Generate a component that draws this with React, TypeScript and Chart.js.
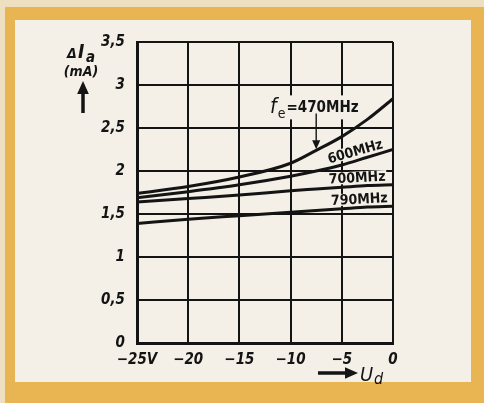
import React, { useEffect, useRef } from "react";
import { Chart, registerables } from "chart.js";
Chart.register(...registerables);

// Reverse voltage Ud (V)
const voltages = [-25, -20, -15, -10, -7.5, -5, -2.5, 0];
// ΔIa (mA) per input frequency
const i470 = [1.74, 1.82, 1.93, 2.09, 2.24, 2.4, 2.6, 2.84];
const i600 = [1.69, 1.76, 1.84, 1.94, 2.0, 2.07, 2.16, 2.25];
const i700 = [1.64, 1.68, 1.72, 1.77, 1.79, 1.81, 1.83, 1.84];
const i790 = [1.39, 1.44, 1.48, 1.52, 1.54, 1.56, 1.58, 1.59];

const seriesNames = ["470 MHz", "600 MHz", "700 MHz", "790 MHz"];
const curveLabels = ["600MHz", "700MHz", "790MHz"];
const yTickValues = [0, 0.5, 1, 1.5, 2, 2.5, 3, 3.5];

const INK = "#141414";
const PAPER = "#F4F0E7";
const NARROW = '"Liberation Sans Narrow", "DejaVu Sans Condensed", "Roboto", sans-serif';

function drawArrowHead(ctx: CanvasRenderingContext2D, x: number, y: number, dir: "down" | "up" | "right", size: number) {
  ctx.beginPath();
  if (dir === "down") {
    ctx.moveTo(x, y);
    ctx.lineTo(x - size * 0.45, y - size);
    ctx.lineTo(x + size * 0.45, y - size);
  } else if (dir === "up") {
    ctx.moveTo(x, y);
    ctx.lineTo(x - size * 0.45, y + size);
    ctx.lineTo(x + size * 0.45, y + size);
  } else {
    ctx.moveTo(x, y);
    ctx.lineTo(x - size, y - size * 0.45);
    ctx.lineTo(x - size, y + size * 0.45);
  }
  ctx.closePath();
  ctx.fill();
}

const annotations = {
  id: "annotations",
  afterDraw(chart: any) {
    const { ctx, chartArea, scales } = chart;
    const x = scales.x;
    const y = scales.y;
    ctx.save();

    // fe = 470MHz label (with paper background masking the grid)
    const px = x.getPixelForValue(-12.0);
    const py = y.getPixelForValue(2.74);
    ctx.fillStyle = PAPER;
    ctx.fillRect(px - 2, py - 12, 92, 24);
    ctx.fillStyle = INK;
    ctx.strokeStyle = INK;
    ctx.textBaseline = "alphabetic";
    ctx.textAlign = "left";
    ctx.font = `italic 21px ${NARROW}`;
    ctx.fillText("f", px, py + 6);
    let w = ctx.measureText("f").width;
    ctx.font = `14px ${NARROW}`;
    ctx.fillText("e", px + w + 1, py + 11);
    w += ctx.measureText("e").width + 2;
    ctx.font = `bold 15px ${NARROW}`;
    ctx.fillText("=470MHz", px + w, py + 5);

    // pointer arrow from the label to the 470 MHz curve
    ctx.lineWidth = 1.4;
    const ax1 = x.getPixelForValue(-7.5);
    const top = y.getPixelForValue(2.67);
    const tip1 = y.getPixelForValue(i470[4]);
    ctx.beginPath();
    ctx.moveTo(ax1, top);
    ctx.lineTo(ax1, tip1 - 6);
    ctx.stroke();
    drawArrowHead(ctx, ax1, tip1 - 1, "down", 9);

    // curve labels
    const labelPos = [
      { x: -3.7, y: 2.23, rot: -16 },
      { x: -3.5, y: 1.925, rot: -3 },
      { x: -3.3, y: 1.675, rot: -3 },
    ];
    ctx.font = `bold 14px ${NARROW}`;
    ctx.textAlign = "center";
    ctx.textBaseline = "middle";
    curveLabels.forEach((t, i) => {
      const p = labelPos[i];
      ctx.save();
      ctx.translate(x.getPixelForValue(p.x), y.getPixelForValue(p.y));
      ctx.rotate((p.rot * Math.PI) / 180);
      const tw = ctx.measureText(t).width;
      ctx.fillStyle = PAPER;
      ctx.fillRect(-tw / 2 - 1, -6, tw + 2, 12);
      ctx.fillStyle = INK;
      ctx.fillText(t, 0, 1);
      ctx.restore();
    });

    // y-axis title: ΔIa (mA) with arrow
    const tx = chartArea.left - 56;
    ctx.fillStyle = INK;
    ctx.textAlign = "left";
    ctx.textBaseline = "alphabetic";
    ctx.font = `bold italic 14px ${NARROW}`;
    ctx.fillText("Δ", tx - 14, chartArea.top + 16);
    ctx.font = `bold italic 19px ${NARROW}`;
    ctx.fillText("I", tx - 3, chartArea.top + 16);
    ctx.font = `bold italic 15px ${NARROW}`;
    ctx.fillText("a", tx + 5, chartArea.top + 20);
    ctx.textAlign = "center";
    ctx.font = `bold italic 14px ${NARROW}`;
    ctx.fillText("(mA)", tx, chartArea.top + 34);
    ctx.lineWidth = 3.5;
    ctx.beginPath();
    ctx.moveTo(tx + 2, chartArea.top + 71);
    ctx.lineTo(tx + 2, chartArea.top + 50);
    ctx.stroke();
    drawArrowHead(ctx, tx + 2, chartArea.top + 39, "up", 13);

    // x-axis title: → Ud
    const by = chartArea.bottom + 30;
    ctx.lineWidth = 3.5;
    ctx.beginPath();
    ctx.moveTo(chartArea.right - 75, by);
    ctx.lineTo(chartArea.right - 46, by);
    ctx.stroke();
    drawArrowHead(ctx, chartArea.right - 35, by, "right", 13);
    ctx.textAlign = "left";
    ctx.font = `italic 20px ${NARROW}`;
    ctx.fillText("U", chartArea.right - 33, by + 8);
    ctx.font = `italic 16px ${NARROW}`;
    ctx.fillText("d", chartArea.right - 19, by + 11);

    ctx.restore();
  },
};

export default function App() {
  const ref = useRef<HTMLCanvasElement | null>(null);
  useEffect(() => {
    if (!ref.current) return;
    const mk = (data: number[], i: number) => ({
      label: seriesNames[i],
      data: voltages.map((v, k) => ({ x: v, y: data[k] })),
      borderColor: INK,
      borderWidth: 3,
      pointRadius: 0,
      cubicInterpolationMode: "monotone" as const,
      fill: false,
    });
    const chart = new Chart(ref.current, {
      type: "line",
      data: { datasets: [mk(i470, 0), mk(i600, 1), mk(i700, 2), mk(i790, 3)] },
      options: {
        animation: false,
        responsive: false,
        maintainAspectRatio: false,
        layout: { padding: { left: 77, right: 91, top: 42, bottom: 30 } },
        plugins: { legend: { display: false }, tooltip: { enabled: false } },
        scales: {
          x: {
            type: "linear",
            min: -25,
            max: 0,
            afterFit: (s: any) => { s.height = 30; },
            ticks: {
              stepSize: 5,
              color: INK,
              padding: 8,
              maxRotation: 0,
              font: { family: NARROW, size: 15, weight: "bold", style: "italic" },
              callback: (v: any) => (v === -25 ? "−25V" : v === 0 ? "0" : "−" + Math.abs(v)),
            },
            grid: { color: INK, lineWidth: 2, drawTicks: false },
            border: { color: INK, width: 3 },
          },
          y: {
            type: "linear",
            min: 0,
            max: 3.5,
            afterFit: (s: any) => { s.width = 60; },
            afterBuildTicks: (s: any) => { s.ticks = yTickValues.map((v) => ({ value: v })); },
            ticks: {
              color: INK,
              padding: 12,
              font: { family: NARROW, size: 15, weight: "bold", style: "italic" },
              callback: (v: any) => String(v).replace(".", ","),
            },
            grid: { color: INK, lineWidth: 2, drawTicks: false },
            border: { color: INK, width: 3 },
          },
        },
      },
      plugins: [annotations],
    });
    return () => chart.destroy();
  }, []);

  return (
    <div style={{ position: "fixed", left: 0, top: 0, width: 484, height: 403, background: "#EEDFC0", overflow: "hidden" }}>
      <div style={{ position: "absolute", left: 5, top: 7, width: 479, height: 396, background: "#E8B552" }} />
      <div style={{ position: "absolute", left: 15, top: 20, width: 456, height: 362, background: PAPER }} />
      <canvas ref={ref} width={484} height={403} style={{ position: "absolute", left: 0, top: 0, width: 484, height: 403 }} />
    </div>
  );
}
